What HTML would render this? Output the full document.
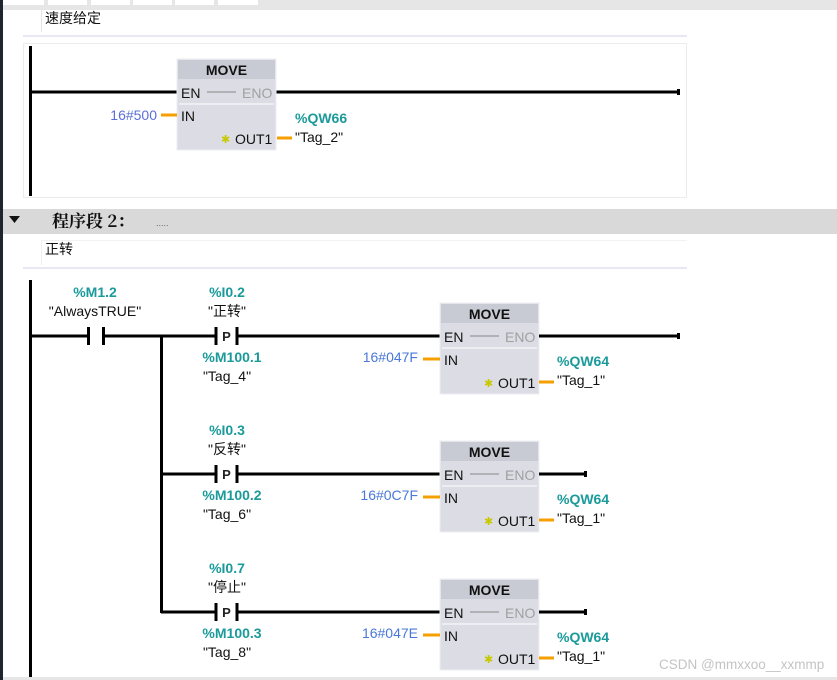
<!DOCTYPE html>
<html><head><meta charset="utf-8"><style>
html,body{margin:0;padding:0;width:837px;height:680px;overflow:hidden;background:#fff}
svg{display:block}
text{font-family:"Liberation Sans","Noto Sans CJK SC",sans-serif}
.t{fill:#1a9a9a;font-weight:bold;font-size:14px}
.k{fill:#111;font-size:14px}
.c{fill:#4a78d8;font-size:14px}
.p{fill:#111;font-size:14px}
.g{fill:#a0a0a0;font-size:14px}
.h{fill:#111;font-size:14px;font-weight:bold}
</style></head><body>
<svg width="837" height="680" xmlns="http://www.w3.org/2000/svg">
<defs>
<g id="mv">
<rect x="0" y="0" width="99" height="91" fill="#dcdde4" stroke="#eceef2"/>
<rect x="1" y="1" width="97" height="19" fill="#c8cad4"/>
<text x="49.5" y="16" text-anchor="middle" class="h">MOVE</text>
<text x="4" y="39" class="p">EN</text>
<line x1="30" y1="33" x2="59" y2="33" stroke="#888" stroke-width="1"/>
<text x="65" y="39" class="g">ENO</text>
<line x1="2" y1="45" x2="97" y2="45" stroke="#f4f4f6" stroke-width="1.5"/>
<text x="4" y="62" class="p">IN</text>
<text x="44" y="84" style="fill:#c8c800;font-size:11px">✱</text>
<text x="58" y="85" class="p">OUT1</text>
</g>
<g id="pc">
<line x1="0" y1="-9" x2="0" y2="9" stroke="#000" stroke-width="3"/>
<line x1="21" y1="-9" x2="21" y2="9" stroke="#000" stroke-width="3"/>
<text x="10.5" y="5" text-anchor="middle" style="font-size:13px;font-weight:bold;fill:#222">P</text>
</g>
</defs>
<rect x="0" y="0" width="837" height="10" fill="#e6e6e6"/>
<g fill="#fff"><rect x="3" y="0" width="41" height="5"/><rect x="48" y="0" width="39" height="5"/><rect x="91" y="0" width="39" height="5"/><rect x="133" y="0" width="39" height="5"/><rect x="175" y="0" width="39" height="5"/><rect x="218" y="0" width="40" height="5"/></g>
<rect x="0" y="0" width="3" height="680" fill="#1e2430"/>
<line x1="41.5" y1="10" x2="41.5" y2="32" stroke="#e4e4e4"/>
<text x="45" y="23" style="font-size:14px;fill:#111">速度给定</text>
<line x1="23" y1="36" x2="687" y2="36" stroke="#cfd0ea" stroke-width="1"/>
<rect x="23.5" y="43.5" width="663" height="154" fill="none" stroke="#ececec"/>
<line x1="30.5" y1="46" x2="30.5" y2="196" stroke="#000" stroke-width="3"/>
<line x1="30" y1="92" x2="177" y2="92" stroke="#000" stroke-width="3"/>
<line x1="276" y1="92" x2="679" y2="92" stroke="#000" stroke-width="3"/>
<rect x="677" y="89" width="3" height="6" fill="#000"/>
<use href="#mv" x="177" y="59"/>
<text x="157" y="120" text-anchor="end" class="c" style="fill:#5a6fd8">16#500</text>
<line x1="161" y1="115" x2="177" y2="115" stroke="#f5a000" stroke-width="3"/>
<line x1="277" y1="138" x2="292" y2="138" stroke="#f5a000" stroke-width="3"/>
<text x="295" y="123" class="t">%QW66</text>
<text x="295" y="142" class="k">"Tag_2"</text>
<rect x="3" y="209" width="834" height="25" fill="#d9d9d9"/>
<polygon points="9,216 20,216 14.5,223" fill="#111"/>
<text x="52" y="227" style="font-family:'Noto Serif CJK SC','Liberation Serif',serif;font-size:17px;font-weight:bold;fill:#111">程序段 2：</text>
<text x="156" y="226" style="font-size:9px;fill:#666">.....</text>
<line x1="41.5" y1="240" x2="41.5" y2="265" stroke="#efefef"/>
<line x1="41" y1="240.5" x2="687" y2="240.5" stroke="#f2f2f2"/>
<text x="45" y="254" style="font-size:14px;fill:#111">正转</text>
<line x1="23" y1="268" x2="687" y2="268" stroke="#cfd0ea"/>
<line x1="30.5" y1="280" x2="30.5" y2="680" stroke="#000" stroke-width="3"/>
<line x1="30" y1="336" x2="89" y2="336" stroke="#000" stroke-width="3"/>
<line x1="88.5" y1="327" x2="88.5" y2="345" stroke="#000" stroke-width="3"/>
<line x1="103.5" y1="327" x2="103.5" y2="345" stroke="#000" stroke-width="3"/>
<line x1="103" y1="336" x2="216" y2="336" stroke="#000" stroke-width="3"/>
<text x="95" y="297" text-anchor="middle" class="t">%M1.2</text>
<text x="95" y="316" text-anchor="middle" class="k">"AlwaysTRUE"</text>
<line x1="161.5" y1="336" x2="161.5" y2="613" stroke="#000" stroke-width="3"/>
<g>
<line x1="237" y1="336" x2="440" y2="336" stroke="#000" stroke-width="3"/>
<use href="#pc" x="216" y="336"/>
<text x="227" y="297" text-anchor="middle" class="t">%I0.2</text>
<text x="227" y="316" text-anchor="middle" class="k">"正转"</text>
<text x="232" y="362" text-anchor="middle" class="t">%M100.1</text>
<text x="227" y="381" text-anchor="middle" class="k">"Tag_4"</text>
<use href="#mv" x="440" y="303"/>
<text x="418" y="362" text-anchor="end" class="c">16#047F</text>
<line x1="423" y1="359" x2="440" y2="359" stroke="#f5a000" stroke-width="3"/>
<line x1="539" y1="336" x2="679" y2="336" stroke="#000" stroke-width="3"/>
<rect x="677" y="333" width="3" height="6" fill="#000"/>
<line x1="539" y1="382" x2="554" y2="382" stroke="#f5a000" stroke-width="3"/>
<text x="557" y="366" class="t">%QW64</text>
<text x="557" y="385" class="k">"Tag_1"</text>
</g>
<g>
<line x1="161" y1="474" x2="216" y2="474" stroke="#000" stroke-width="3"/>
<line x1="237" y1="474" x2="440" y2="474" stroke="#000" stroke-width="3"/>
<use href="#pc" x="216" y="474"/>
<text x="227" y="435" text-anchor="middle" class="t">%I0.3</text>
<text x="227" y="454" text-anchor="middle" class="k">"反转"</text>
<text x="232" y="500" text-anchor="middle" class="t">%M100.2</text>
<text x="227" y="519" text-anchor="middle" class="k">"Tag_6"</text>
<use href="#mv" x="440" y="441"/>
<text x="418" y="500" text-anchor="end" class="c">16#0C7F</text>
<line x1="423" y1="497" x2="440" y2="497" stroke="#f5a000" stroke-width="3"/>
<line x1="539" y1="474" x2="586" y2="474" stroke="#000" stroke-width="3"/>
<rect x="584" y="471" width="3" height="6" fill="#000"/>
<line x1="539" y1="520" x2="554" y2="520" stroke="#f5a000" stroke-width="3"/>
<text x="557" y="504" class="t">%QW64</text>
<text x="557" y="523" class="k">"Tag_1"</text>
</g>
<g>
<line x1="161" y1="612" x2="216" y2="612" stroke="#000" stroke-width="3"/>
<line x1="237" y1="612" x2="440" y2="612" stroke="#000" stroke-width="3"/>
<use href="#pc" x="216" y="612"/>
<text x="227" y="573" text-anchor="middle" class="t">%I0.7</text>
<text x="227" y="592" text-anchor="middle" class="k">"停止"</text>
<text x="232" y="638" text-anchor="middle" class="t">%M100.3</text>
<text x="227" y="657" text-anchor="middle" class="k">"Tag_8"</text>
<use href="#mv" x="440" y="579"/>
<text x="418" y="638" text-anchor="end" class="c">16#047E</text>
<line x1="423" y1="635" x2="440" y2="635" stroke="#f5a000" stroke-width="3"/>
<line x1="539" y1="612" x2="586" y2="612" stroke="#000" stroke-width="3"/>
<rect x="584" y="609" width="3" height="6" fill="#000"/>
<line x1="539" y1="658" x2="554" y2="658" stroke="#f5a000" stroke-width="3"/>
<text x="557" y="642" class="t">%QW64</text>
<text x="557" y="661" class="k">"Tag_1"</text>
</g>
<text x="659" y="669" style="font-size:13.5px;fill:#c4c4c4">CSDN @mmxxoo__xxmmp</text>
<rect x="3" y="677" width="834" height="3" fill="#e6e6e6"/>
</svg>
</body></html>
